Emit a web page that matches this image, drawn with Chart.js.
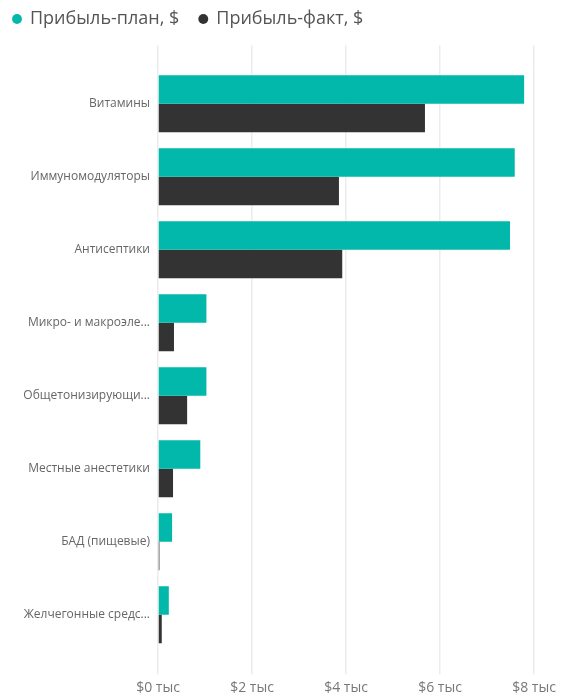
<!DOCTYPE html>
<html><head><meta charset="utf-8">
<script src="https://cdn.jsdelivr.net/npm/chart.js@4"></script>
<style>html,body{margin:0;padding:0;background:#fff}#w{width:561px;height:697px;position:relative}</style>
</head><body><div id="w"><canvas id="c"></canvas></div>
<script>
const categories = ["Витамины","Иммуномодуляторы","Антисептики","Микро- и макроэле...","Общетонизирующи...","Местные анестетики","БАД (пищевые)","Желчегонные средс..."];
const planValues = [7.79, 7.59, 7.49, 1.03, 1.03, 0.90, 0.30, 0.23];
const factValues = [5.68, 3.85, 3.92, 0.34, 0.62, 0.32, 0.03, 0.08];
const seriesNames = ["Прибыль-план, $", "Прибыль-факт, $"];
const tickValues = [0, 2, 4, 6, 8];
const tickLabel = v => "$" + v + " тыс";

const FONT = "'Open Sans', 'Noto Sans', sans-serif";
const gridColor = "#ececec";

new Chart(document.getElementById('c'), {
  type: 'bar',
  data: {
    labels: categories,
    datasets: [
      {label: seriesNames[0], data: planValues, backgroundColor: '#01B8AA', categoryPercentage: 0.78, barPercentage: 1.0},
      {label: seriesNames[1], data: factValues, backgroundColor: '#333333', categoryPercentage: 0.78, barPercentage: 1.0}
    ]
  },
  options: {
    indexAxis: 'y',
    responsive: true,
    maintainAspectRatio: false,
    animation: false,
    layout: {padding: {left: -7, right: 27, top: -10, bottom: -4}},
    plugins: {
      tooltip: {enabled: false},
      legend: {
        position: 'top', align: 'start',
        labels: {
          usePointStyle: true, pointStyle: 'circle', boxWidth: 8, boxHeight: 7,
          padding: 20, color: '#555', font: {family: FONT, size: 18}
        }
      }
    },
    scales: {
      x: {
        position: 'bottom', min: 0, max: 8,
        afterBuildTicks: s => { s.ticks = tickValues.map(v => ({value: v})); },
        grid: {color: gridColor, lineWidth: 1.5, tickLength: 23, tickColor: gridColor, tickWidth: 1.5},
        border: {display: false},
        ticks: {callback: v => tickLabel(v), color: '#777', font: {family: FONT, size: 14}, padding: 5, maxRotation: 0}
      },
      x2: {
        position: 'top', axis: 'x', min: 0, max: 8,
        afterBuildTicks: s => { s.ticks = tickValues.map(v => ({value: v})); },
        grid: {color: gridColor, lineWidth: 1.5, tickLength: 22, tickColor: gridColor, tickWidth: 1.5, drawOnChartArea: false},
        border: {display: false},
        title: {display: true, text: '', font: {size: 1}, padding: {top: 6, bottom: 0}},
        ticks: {display: false}
      },
      y: {
        grid: {display: false},
        border: {display: false},
        afterFit: s => { s.width = 165; },
        ticks: {color: '#666', font: {family: FONT, size: 12}, padding: 0}
      }
    }
  }
});
</script>
</body></html>
